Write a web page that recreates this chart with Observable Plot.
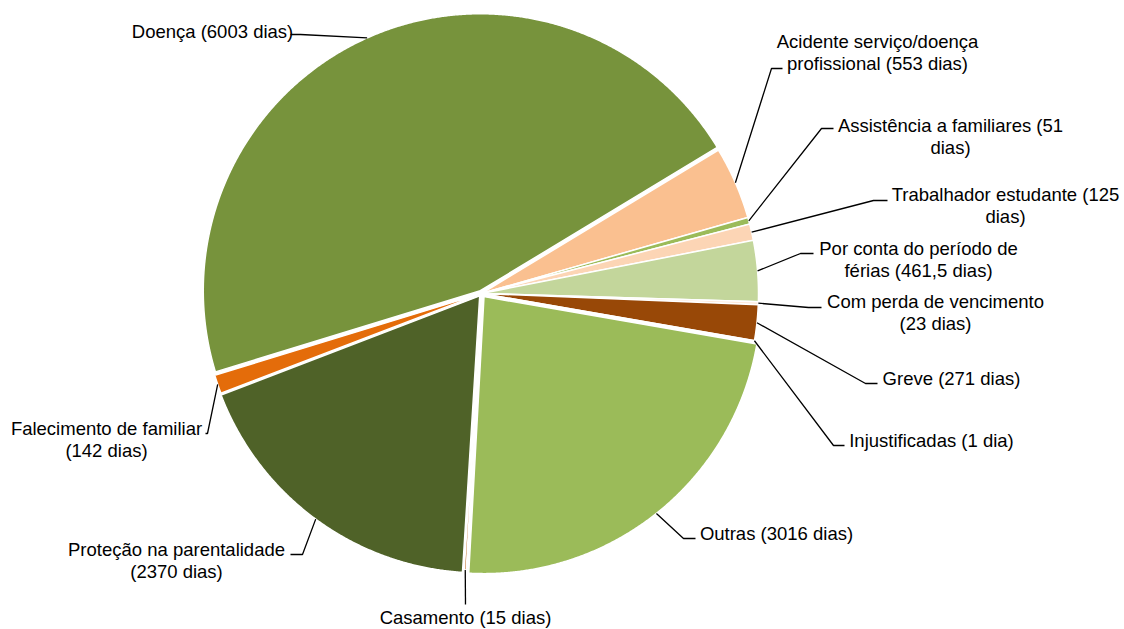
<!DOCTYPE html>
<html>
<head>
<meta charset="utf-8">
<script src="https://cdn.jsdelivr.net/npm/d3@7"></script>
<script src="https://cdn.jsdelivr.net/npm/@observablehq/plot@0.6"></script>
<style>
  html, body { margin: 0; padding: 0; background: #ffffff; }
  #chart svg { display: block; }
</style>
</head>
<body>
<div id="chart"></div>
<script>
// Absence days by reason, in clockwise order starting after "Doença"
const categories = [
  "Acidente serviço/doença profissional",
  "Assistência a familiares",
  "Trabalhador estudante",
  "Por conta do período de férias",
  "Com perda de vencimento",
  "Greve",
  "Injustificadas",
  "Outras",
  "Casamento",
  "Proteção na parentalidade",
  "Falecimento de familiar",
  "Doença"
];
const days = [553, 51, 125, 461.5, 23, 271, 1, 3016, 15, 2370, 142, 6003];
const sliceColors = [
  "#FAC090", "#9BBB59", "#FCD5B5", "#C3D69B", "#FDEADA", "#984807",
  "#D7E4BD", "#9BBB59", "#B65708", "#4F6228", "#E46C0A", "#77933C"
];

// ---- layout ----
const W = 1124, H = 629;
const cx = 481, cy = 293, R = 277;          // pie centre and radius (px)
const startDeg = 58.8;                       // angle where the first slice begins
const explode = {                            // outward offset of some slices (px)
  "Doença": 3, "Outras": 4, "Proteção na parentalidade": 3, "Falecimento de familiar": 2
};
// label block centre (tx, ty), leader elbow (ex, ey), stub end x (sx), words on first line
const labelLayout = {
  "Doença":                               {tx: 212, ty: 30,  ex: 300, ey: 34,  sx: 290, first: 99},
  "Acidente serviço/doença profissional": {tx: 877, ty: 51,  ex: 771, ey: 68,  sx: 782, first: 2},
  "Assistência a familiares":             {tx: 950, ty: 135, ex: 821, ey: 128, sx: 833, first: 4},
  "Trabalhador estudante":                {tx: 1005, ty: 204, ex: 873, ey: 200, sx: 887, first: 3},
  "Por conta do período de férias":       {tx: 918, ty: 258, ex: 800, ey: 253, sx: 813, first: 5},
  "Com perda de vencimento":              {tx: 935, ty: 311, ex: 808, ey: 307, sx: 821, first: 4},
  "Greve":                                {tx: 951, ty: 377, ex: 865, ey: 383, sx: 877, first: 99},
  "Injustificadas":                       {tx: 931, ty: 439, ex: 833, ey: 445, sx: 844, first: 99},
  "Outras":                               {tx: 776, ty: 532, ex: 683, ey: 538, sx: 695, first: 99},
  "Casamento":                            {tx: 465, ty: 616, ex: 465, ey: 604, sx: 465, first: 99},
  "Proteção na parentalidade":            {tx: 176, ty: 559, ex: 302, ey: 554, sx: 290, first: 3},
  "Falecimento de familiar":              {tx: 106, ty: 438, ex: 207, ey: 433, sx: 205, first: 3}
};

const rows = categories.map((name, i) => ({name, value: days[i], color: sliceColors[i]}));
const rad = Math.PI / 180;
const arcs = d3.pie()
  .sort(null)
  .value(d => d.value)
  .startAngle(startDeg * rad)
  .endAngle(startDeg * rad + 2 * Math.PI)(rows);

// polygon outline of each slice (clockwise angles from 12 o'clock)
const slicePts = [];
const leaderPts = [];
const labelRows = [];
for (const a of arcs) {
  const name = a.data.name;
  const mid = (a.startAngle + a.endAngle) / 2;
  const e = explode[name] || 0;
  const ox = cx + e * Math.sin(mid), oy = cy - e * Math.cos(mid);
  slicePts.push({name, x: ox, y: oy});
  const n = Math.max(2, Math.ceil((a.endAngle - a.startAngle) / (0.25 * rad)));
  for (let k = 0; k <= n; ++k) {
    const t = a.startAngle + (a.endAngle - a.startAngle) * k / n;
    slicePts.push({name, x: ox + R * Math.sin(t), y: oy - R * Math.cos(t)});
  }
  slicePts.push({name, x: ox, y: oy});

  // label text built from the value
  const L = labelLayout[name];
  const v = a.data.value;
  const full = `${name} (${String(v).replace(".", ",")} ${v === 1 ? "dia" : "dias"})`;
  const words = full.split(" ");
  const text = words.length > L.first
    ? words.slice(0, L.first).join(" ") + "\n" + words.slice(L.first).join(" ")
    : full;
  labelRows.push({name, text, x: L.tx, y: L.ty});

  // leader: slice edge at mid-angle -> elbow -> short horizontal stub
  leaderPts.push({name, x: ox + R * Math.sin(mid), y: oy - R * Math.cos(mid)});
  leaderPts.push({name, x: L.ex, y: L.ey});
  if (L.sx !== L.ex) leaderPts.push({name, x: L.sx, y: L.ey});
}

const chart = Plot.plot({
  width: W,
  height: H,
  margin: 0,
  x: {domain: [0, W], axis: null},
  y: {domain: [0, H], range: [0, H], axis: null},
  color: {domain: categories, range: sliceColors},
  style: {background: "#ffffff"},
  marks: [
    Plot.line(slicePts, {
      x: "x", y: "y", z: "name", fill: "name",
      stroke: "#ffffff", strokeWidth: 1.5, strokeLinejoin: "miter", strokeMiterlimit: 4
    }),
    Plot.line(leaderPts, {
      x: "x", y: "y", z: "name",
      stroke: "#000000", strokeWidth: 1.3, strokeLinejoin: "miter", strokeLinecap: "butt"
    }),
    Plot.text(labelRows, {
      x: "x", y: "y", text: "text",
      fontSize: 18.5, fontFamily: "Liberation Sans, Arial, sans-serif",
      lineHeight: 1.19, textAnchor: "middle", fill: "#000000"
    })
  ]
});
document.getElementById("chart").appendChild(chart);
</script>
</body>
</html>
